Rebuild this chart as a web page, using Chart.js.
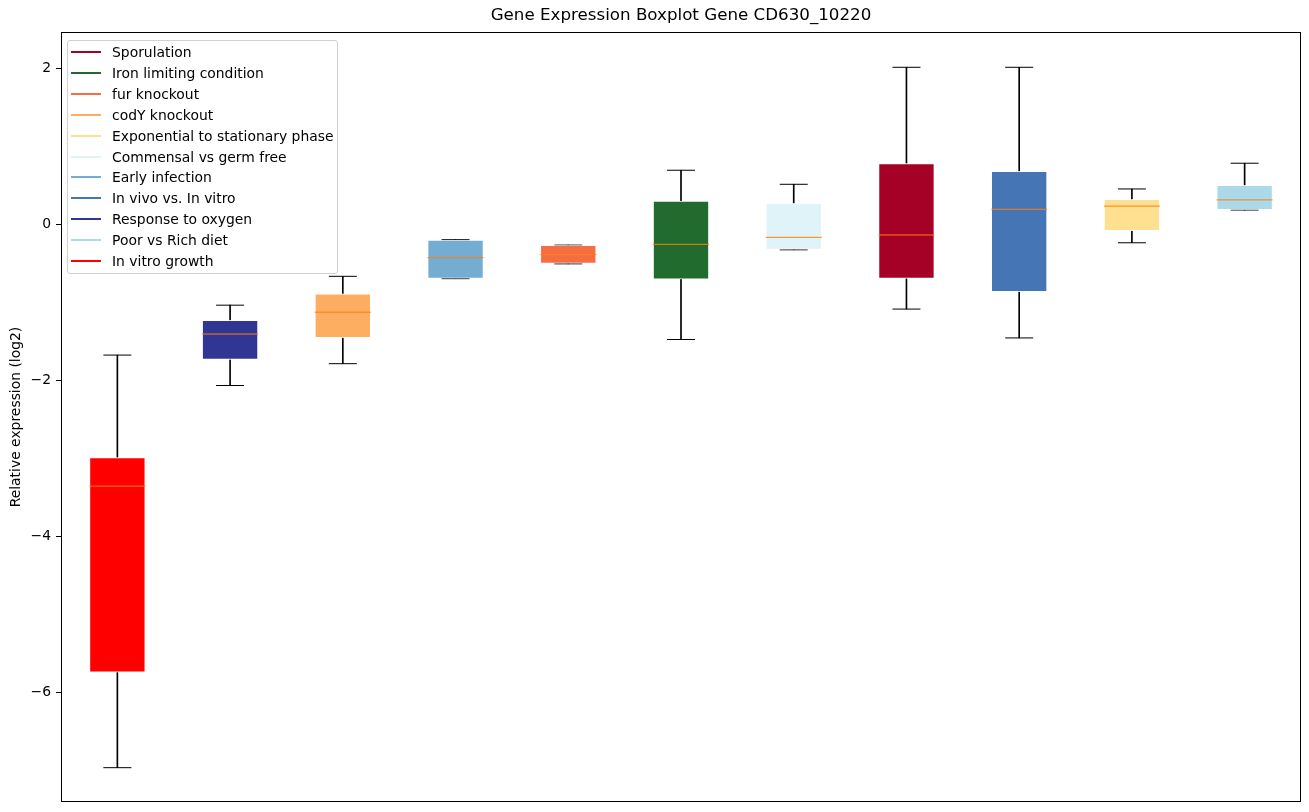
<!DOCTYPE html>
<html>
<head>
<meta charset="utf-8">
<script src="https://cdn.jsdelivr.net/npm/chart.js@4.4.1/dist/chart.umd.min.js"></script>
<style>
  html, body { margin: 0; padding: 0; background: #fff; overflow: hidden; }
  #wrap { position: relative; width: 1309px; height: 812px; }
  #myChart { display: block; }
  #legend {
    position: absolute; left: 67px; top: 40px; width: 271px; height: 234px;
    box-sizing: border-box; border: 1px solid #d0d0d0; border-radius: 3px;
    background: rgba(255,255,255,0.8); font-family: 'DejaVu Sans', sans-serif; font-size: 13.9px; color: #000;
  }
  .row { position: absolute; left: 0; height: 20px; line-height: 20px; white-space: nowrap; }
  .row .handle { position: absolute; left: 3px; top: 9px; width: 30px; height: 2px; }
  .row .lbl { position: absolute; left: 44px; top: 0; }
</style>
</head>
<body>
<div id="wrap">
  <canvas id="myChart" width="1309" height="812"></canvas>
  <div id="legend"></div>
</div>
<script>
// boxes, left to right
const categories = ['In vitro growth', 'Response to oxygen', 'codY knockout', 'Early infection', 'fur knockout',
  'Iron limiting condition', 'Commensal vs germ free', 'Sporulation', 'In vivo vs. In vitro',
  'Exponential to stationary phase', 'Poor vs Rich diet']
const whiskerLow  = [-6.97, -2.07, -1.79, -0.70, -0.51, -1.48, -0.33, -1.09, -1.46, -0.24, 0.18]
const q1          = [-5.75, -1.74, -1.46, -0.70, -0.51, -0.71, -0.33, -0.70, -0.87, -0.09, 0.18]
const medians     = [-3.36, -1.41, -1.13, -0.43, -0.39, -0.26, -0.17, -0.14, 0.19, 0.23, 0.31]
const q3          = [-2.99, -1.23, -0.89, -0.20, -0.27, 0.30, 0.27, 0.78, 0.68, 0.32, 0.50]
const whiskerHigh = [-1.68, -1.04, -0.67, -0.20, -0.27, 0.69, 0.51, 2.01, 2.01, 0.45, 0.78]
const yTicks = [-6, -4, -2, 0, 2]

const boxColors = ['#ff0000', '#313695', '#fdae61', '#74add1', '#f46d43', '#226b2f', '#e0f3f8',
  '#a50026', '#4575b4', '#fee090', '#abd9e9']
const legendOrder = ['Sporulation', 'Iron limiting condition', 'fur knockout', 'codY knockout',
  'Exponential to stationary phase', 'Commensal vs germ free', 'Early infection', 'In vivo vs. In vitro',
  'Response to oxygen', 'Poor vs Rich diet', 'In vitro growth']

// legend box (same look as the matplotlib one)
const legendEl = document.getElementById('legend')
legendOrder.forEach((name, i) => {
  const col = boxColors[categories.indexOf(name)]
  const row = document.createElement('div')
  row.className = 'row'
  row.style.top = (1 + i * 20.9) + 'px'
  row.innerHTML = `<span class="handle" style="background:${col}"></span><span class="lbl">${name}</span>`
  legendEl.appendChild(row)
})

const framePlugin = {
  id: 'frame',
  afterDraw(chart) {
    const {ctx, chartArea: a} = chart
    ctx.save()
    ctx.strokeStyle = '#000'
    ctx.lineWidth = 1
    ctx.strokeRect(Math.round(a.left) + 0.5, Math.round(a.top) + 0.5,
      Math.round(a.right - a.left) - 1, Math.round(a.bottom - a.top) - 1)
    ctx.restore()
  }
}

const ctx = document.getElementById('myChart')
new Chart(ctx, {
  type: 'bar',
  data: {
    labels: categories,
    datasets: [
      {
        label: 'median', type: 'line', order: 0, showLine: false,
        data: medians, pointStyle: 'line', pointRadius: 28, pointBorderWidth: 1,
        pointBorderColor: '#ff7f0e', borderColor: '#ff7f0e'
      },
      {
        label: 'box', order: 1, grouped: false,
        data: categories.map((c, i) => [q1[i], q3[i]]),
        backgroundColor: boxColors, borderColor: 'rgba(255,255,255,0.55)', borderWidth: 1, borderSkipped: false,
        barPercentage: 0.5, categoryPercentage: 1
      },
      {
        label: 'lowWhisker', order: 2, grouped: false,
        data: categories.map((c, i) => [whiskerLow[i], q1[i]]),
        backgroundColor: '#000', barThickness: 1
      },
      {
        label: 'highWhisker', order: 2, grouped: false,
        data: categories.map((c, i) => [q3[i], whiskerHigh[i]]),
        backgroundColor: '#000', barThickness: 1
      },
      {
        label: 'lowCap', type: 'line', order: 3, showLine: false,
        data: whiskerLow, pointStyle: 'line', pointRadius: 14, pointBorderWidth: 1,
        pointBorderColor: '#000', borderColor: '#000'
      },
      {
        label: 'highCap', type: 'line', order: 3, showLine: false,
        data: whiskerHigh, pointStyle: 'line', pointRadius: 14, pointBorderWidth: 1,
        pointBorderColor: '#000', borderColor: '#000'
      }
    ]
  },
  options: {
    responsive: false,
    animation: false,
    devicePixelRatio: 1,
    layout: { autoPadding: false, padding: { left: 0, right: 8, top: 0, bottom: 10 } },
    plugins: {
      legend: { display: false },
      tooltip: { enabled: false },
      title: {
        display: true, fullSize: false,
        text: 'Gene Expression Boxplot Gene CD630_10220',
        color: '#000',
        font: { family: 'DejaVu Sans', size: 16.7, weight: 'normal' },
        padding: { top: 6, bottom: 6 }
      }
    },
    scales: {
      x: { type: 'category', offset: true, display: false },
      y: {
        min: -7.41, max: 2.462,
        afterBuildTicks: (s) => { s.ticks = yTicks.map(v => ({ value: v })) },
        afterFit: (s) => { s.width = 61; s.paddingTop = 0; s.paddingBottom = 0 },
        border: { display: false },
        grid: { display: true, drawOnChartArea: false, drawTicks: true, tickLength: 5, color: '#000', tickColor: '#000' },
        ticks: {
          color: '#000', padding: 5,
          font: { family: 'DejaVu Sans', size: 13.9 },
          callback: (v) => String(v).replace('-', '\u2212')
        },
        title: {
          display: true, text: 'Relative expression (log2)', color: '#000',
          font: { family: 'DejaVu Sans', size: 13.9 },
          padding: { top: 8, bottom: 0 }
        }
      }
    }
  },
  plugins: [framePlugin]
})
</script>
</body>
</html>
